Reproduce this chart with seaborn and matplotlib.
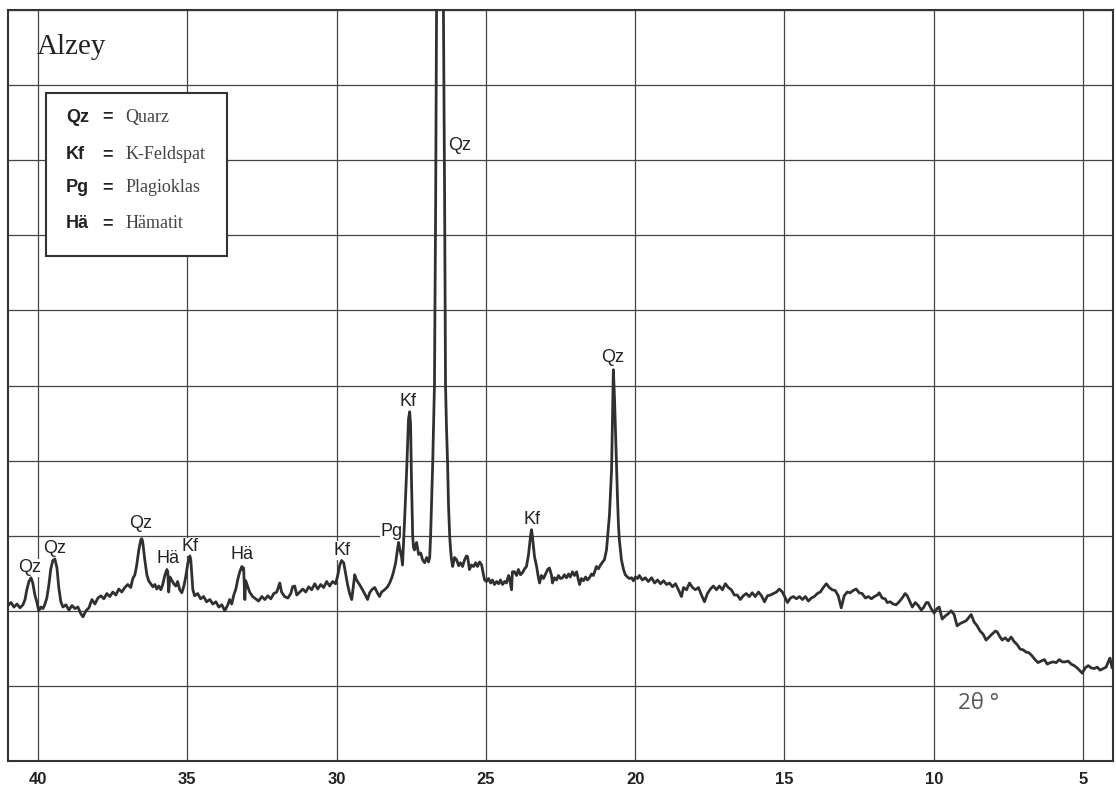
import numpy as np
import pandas as pd
import matplotlib
matplotlib.use("Agg")
import matplotlib.pyplot as plt
import seaborn as sns
from matplotlib.patches import Rectangle
from matplotlib.ticker import MultipleLocator

# ---------------- data ----------------
two_theta = [
    41.00, 40.90, 40.80, 40.70, 40.60, 40.50, 40.43, 40.37, 40.30, 40.23,
    40.17, 40.10, 40.03, 39.97, 39.90, 39.83, 39.77, 39.70, 39.63, 39.57,
    39.50, 39.43, 39.36, 39.30, 39.23, 39.16, 39.06, 38.96, 38.86, 38.76,
    38.66, 38.56, 38.49, 38.39, 38.29, 38.19, 38.09, 37.99, 37.89, 37.79,
    37.69, 37.59, 37.49, 37.39, 37.29, 37.19, 37.09, 36.99, 36.89, 36.82,
    36.75, 36.69, 36.62, 36.55, 36.52, 36.49, 36.42, 36.35, 36.29, 36.22,
    36.15, 36.08, 36.02, 35.95, 35.88, 35.82, 35.75, 35.68, 35.65, 35.62,
    35.58, 35.52, 35.45, 35.38, 35.32, 35.25, 35.18, 35.11, 35.05, 34.98,
    34.91, 34.88, 34.81, 34.75, 34.65, 34.55, 34.45, 34.35, 34.24, 34.14,
    34.04, 33.94, 33.84, 33.74, 33.64, 33.58, 33.51, 33.44, 33.37, 33.31,
    33.24, 33.17, 33.14, 33.11, 33.07, 33.04, 32.97, 32.91, 32.81, 32.71,
    32.61, 32.50, 32.40, 32.30, 32.20, 32.10, 32.00, 31.90, 31.84, 31.74,
    31.63, 31.53, 31.47, 31.40, 31.33, 31.23, 31.13, 31.03, 30.93, 30.83,
    30.73, 30.63, 30.53, 30.43, 30.33, 30.23, 30.13, 30.03, 29.96, 29.89,
    29.83, 29.76, 29.69, 29.63, 29.56, 29.49, 29.43, 29.39, 29.33, 29.23,
    29.13, 29.02, 28.96, 28.89, 28.82, 28.72, 28.62, 28.56, 28.49, 28.39,
    28.29, 28.22, 28.15, 28.09, 28.02, 27.95, 27.92, 27.89, 27.85, 27.82,
    27.79, 27.72, 27.65, 27.59, 27.55, 27.52, 27.49, 27.45, 27.42, 27.39,
    27.32, 27.25, 27.18, 27.12, 27.05, 26.98, 26.92, 26.88, 26.85, 26.82,
    26.78, 26.75, 26.72, 26.68, 26.65, 26.62, 26.55, 26.48, 26.45, 26.42,
    26.38, 26.35, 26.32, 26.28, 26.25, 26.21, 26.18, 26.15, 26.11, 26.05,
    25.98, 25.91, 25.85, 25.78, 25.71, 25.65, 25.61, 25.55, 25.48, 25.41,
    25.34, 25.28, 25.21, 25.14, 25.08, 25.04, 24.98, 24.91, 24.84, 24.78,
    24.71, 24.64, 24.57, 24.51, 24.44, 24.37, 24.31, 24.24, 24.21, 24.14,
    24.11, 24.04, 23.97, 23.91, 23.84, 23.77, 23.70, 23.64, 23.57, 23.50,
    23.47, 23.44, 23.37, 23.30, 23.24, 23.20, 23.14, 23.07, 23.00, 22.93,
    22.87, 22.80, 22.77, 22.70, 22.63, 22.57, 22.50, 22.43, 22.37, 22.30,
    22.23, 22.17, 22.10, 22.03, 21.96, 21.90, 21.86, 21.80, 21.73, 21.66,
    21.60, 21.53, 21.46, 21.40, 21.33, 21.30, 21.23, 21.16, 21.09, 21.03,
    20.96, 20.93, 20.86, 20.83, 20.79, 20.76, 20.73, 20.69, 20.66, 20.63,
    20.59, 20.56, 20.53, 20.46, 20.39, 20.33, 20.26, 20.19, 20.12, 20.06,
    19.99, 19.92, 19.86, 19.76, 19.66, 19.56, 19.45, 19.35, 19.25, 19.15,
    19.05, 18.95, 18.85, 18.75, 18.65, 18.55, 18.45, 18.38, 18.28, 18.18,
    18.08, 17.98, 17.88, 17.78, 17.68, 17.58, 17.48, 17.38, 17.28, 17.18,
    17.08, 16.98, 16.88, 16.78, 16.68, 16.58, 16.48, 16.38, 16.28, 16.18,
    16.08, 15.98, 15.87, 15.77, 15.67, 15.57, 15.47, 15.37, 15.27, 15.17,
    15.07, 14.97, 14.90, 14.80, 14.70, 14.60, 14.50, 14.40, 14.30, 14.20,
    14.10, 14.00, 13.90, 13.80, 13.70, 13.60, 13.50, 13.40, 13.30, 13.20,
    13.10, 13.00, 12.90, 12.80, 12.70, 12.60, 12.50, 12.40, 12.29, 12.19,
    12.09, 11.99, 11.89, 11.83, 11.73, 11.63, 11.56, 11.46, 11.36, 11.26,
    11.16, 11.06, 10.96, 10.89, 10.79, 10.72, 10.62, 10.52, 10.42, 10.35,
    10.25, 10.19, 10.09, 9.99, 9.89, 9.82, 9.72, 9.62, 9.52, 9.42,
    9.32, 9.22, 9.12, 9.01, 8.91, 8.81, 8.75, 8.65, 8.55, 8.45,
    8.35, 8.25, 8.15, 8.05, 7.94, 7.88, 7.78, 7.71, 7.61, 7.51,
    7.41, 7.31, 7.21, 7.11, 7.01, 6.91, 6.81, 6.71, 6.61, 6.51,
    6.41, 6.30, 6.20, 6.10, 6.00, 5.90, 5.80, 5.70, 5.60, 5.50,
    5.40, 5.30, 5.20, 5.10, 5.03, 4.93, 4.83, 4.73, 4.63, 4.53,
    4.43, 4.33, 4.23, 4.16, 4.10, 4.03,
]

intensity = [
    207, 211, 205, 209, 204, 208, 215, 228, 239, 244,
    237, 221, 211, 200, 205, 203, 208, 217, 235, 255,
    267, 269, 257, 231, 212, 205, 208, 201, 207, 203,
    205, 196, 192, 200, 204, 215, 209, 217, 220, 216,
    223, 219, 225, 221, 229, 225, 231, 235, 231, 243,
    248, 261, 281, 295, 296, 292, 268, 248, 240, 236,
    232, 235, 229, 233, 228, 235, 247, 255, 252, 225,
    245, 241, 236, 233, 239, 228, 224, 233, 245, 263,
    273, 268, 228, 220, 223, 216, 219, 212, 215, 209,
    212, 205, 208, 200, 208, 215, 209, 221, 229, 241,
    252, 259, 255, 257, 215, 240, 232, 225, 219, 216,
    213, 219, 215, 220, 216, 223, 225, 237, 225, 219,
    217, 223, 232, 233, 221, 225, 229, 225, 232, 228,
    236, 229, 235, 231, 239, 233, 239, 236, 247, 261,
    267, 264, 248, 235, 223, 215, 235, 248, 241, 235,
    228, 220, 215, 224, 228, 231, 223, 219, 225, 228,
    232, 237, 244, 252, 264, 284, 291, 284, 277, 271,
    261, 321, 388, 455, 465, 448, 375, 299, 284, 281,
    291, 275, 277, 268, 264, 271, 265, 271, 299, 341,
    395, 448, 501, 748, 1001, 1348, 1681, 1348, 1081, 1001,
    748, 501, 448, 395, 341, 299, 281, 268, 259, 271,
    268, 260, 264, 259, 268, 273, 272, 255, 261, 259,
    264, 259, 265, 261, 248, 241, 239, 243, 237, 241,
    235, 239, 236, 241, 235, 239, 237, 247, 244, 228,
    252, 252, 247, 255, 248, 251, 256, 259, 275, 301,
    308, 299, 272, 259, 244, 237, 247, 243, 249, 255,
    257, 247, 237, 244, 241, 247, 243, 244, 248, 244,
    249, 245, 252, 247, 252, 241, 235, 243, 240, 245,
    241, 244, 249, 247, 255, 259, 256, 261, 265, 268,
    281, 295, 328, 355, 388, 455, 521, 481, 441, 401,
    348, 315, 295, 268, 255, 248, 245, 243, 244, 240,
    245, 243, 247, 241, 244, 239, 244, 237, 241, 236,
    240, 235, 237, 232, 236, 228, 219, 231, 228, 237,
    231, 228, 231, 221, 212, 223, 229, 233, 228, 233,
    228, 236, 231, 228, 221, 221, 215, 220, 223, 219,
    224, 219, 225, 220, 212, 220, 221, 223, 225, 229,
    225, 217, 211, 217, 219, 216, 219, 215, 219, 213,
    217, 219, 223, 225, 231, 236, 231, 228, 227, 220,
    204, 220, 225, 224, 227, 229, 224, 223, 217, 219,
    216, 219, 221, 224, 217, 216, 211, 212, 209, 208,
    212, 217, 223, 220, 211, 205, 211, 207, 201, 204,
    211, 211, 203, 197, 203, 205, 189, 193, 196, 200,
    195, 180, 183, 185, 187, 192, 195, 185, 180, 173,
    169, 161, 165, 169, 173, 172, 165, 161, 164, 160,
    165, 159, 155, 149, 148, 145, 144, 140, 135, 131,
    133, 135, 129, 131, 132, 131, 135, 132, 132, 133,
    129, 127, 124, 120, 117, 124, 127, 124, 123, 125,
    121, 123, 125, 132, 137, 124,
]

peak_names = ["Qz", "Qz", "Qz", "Hä", "Kf", "Hä", "Kf", "Pg", "Kf", "Qz", "Kf", "Qz"]
peak_x = [40.27, 39.43, 36.55, 35.65, 34.91, 33.17, 29.83, 28.15, 27.59, 25.88, 23.47, 20.76]
peak_y = [257, 283, 316, 269, 285, 275, 280, 305, 479, 819, 321, 537]

legend_codes = ["Qz", "Kf", "Pg", "Hä"]
legend_names = ["Quarz", "K-Feldspat", "Plagioklas", "Hämatit"]
sample_name = "Alzey"
x_axis_label = "2θ °"
x_ticks = [40, 35, 30, 25, 20, 15, 10, 5]

# ---------------- drawing ----------------
sns.set_style("white")
plt.rcParams["font.family"] = ["Liberation Sans", "DejaVu Sans"]

W, H = 1116, 790
fig = plt.figure(figsize=(W / 100, H / 100), dpi=100)
ax = fig.add_axes([8 / W, 29 / H, 1105 / W, 751 / H])

df = pd.DataFrame({"two_theta": two_theta, "intensity": intensity})
sns.lineplot(data=df, x="two_theta", y="intensity", ax=ax, color="#303030",
             linewidth=2.0, sort=False, estimator=None, zorder=3)

ax.set_xlim(41.0, 4.0)
ax.set_ylim(0, 1000)
ax.set_xticks(x_ticks)
ax.set_xticklabels([str(t) for t in x_ticks], fontweight="bold", fontsize=12, color="#222")
ax.xaxis.set_minor_locator(MultipleLocator(1))
ax.set_yticks(np.arange(0, 1001, 100))
ax.tick_params(axis="y", length=0, labelleft=False)
ax.tick_params(axis="x", which="major", length=5, width=1, color="#333", pad=3)
ax.tick_params(axis="x", which="minor", length=5, width=1, color="#333")
ax.set_axisbelow(True)
ax.grid(True, which="major", color="#444444", linewidth=0.9)
ax.set_xlabel("")
ax.set_ylabel("")
for s in ax.spines.values():
    s.set_visible(True)
    s.set_color("#333333")
    s.set_linewidth(1.5)

# peak labels
for name, xv, yv in zip(peak_names, peak_x, peak_y):
    ax.text(xv, yv, name, ha="center", va="center", fontsize=13, color="#222",
            zorder=2, bbox=dict(facecolor="white", edgecolor="none", pad=0.6))

# sample name
ax.text(0.026, 0.951, sample_name, transform=ax.transAxes, ha="left", va="center",
        fontsize=21, family=["Liberation Serif", "DejaVu Serif"], color="#222", zorder=5)

# legend box
ax.add_patch(Rectangle((0.0344, 0.672), 0.1638, 0.217, transform=ax.transAxes,
                       facecolor="white", edgecolor="#333333", linewidth=1.5, zorder=4))
rows_y = [0.8575, 0.807, 0.763, 0.716]
for code, nm, ry in zip(legend_codes, legend_names, rows_y):
    ax.text(0.0525, ry, code, transform=ax.transAxes, ha="left", va="center",
            fontsize=13, fontweight="bold", color="#222", zorder=5)
    ax.text(0.0896, ry, "=", transform=ax.transAxes, ha="center", va="center",
            fontsize=13, fontweight="bold", color="#222", zorder=5)
    ax.text(0.106, ry, nm, transform=ax.transAxes, ha="left", va="center",
            fontsize=13, family=["Liberation Serif", "DejaVu Serif"], color="#444", zorder=5)

# axis label
ax.text(0.86, 0.076, x_axis_label, transform=ax.transAxes, ha="left", va="center",
        fontsize=16, family=["Open Sans", "DejaVu Sans"], color="#555", zorder=5)

fig.savefig("out.png", dpi=100, facecolor="white")
